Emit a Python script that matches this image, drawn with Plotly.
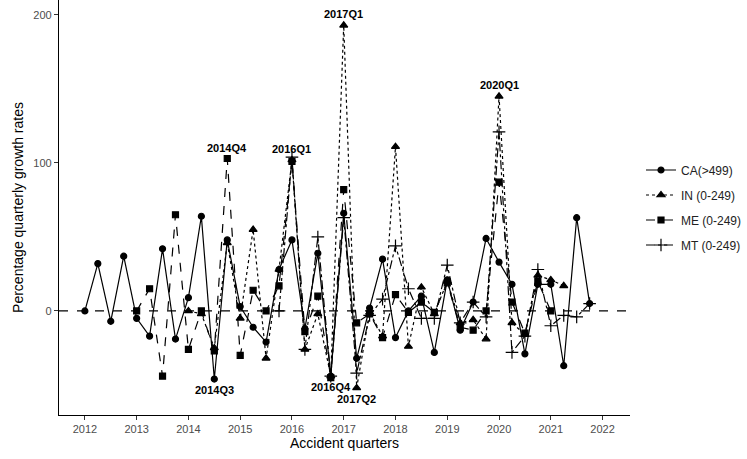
import plotly.graph_objects as go

# Quarter labels 2012Q1 .. 2021Q4
years = list(range(2012, 2022))
quarters = [f"{y}Q{q}" for y in years for q in (1, 2, 3, 4)]
xq = [int(s[:4]) + (int(s[-1]) - 1) / 4 for s in quarters]

N = None
ca = [0, 32, -7, 37, -5, -17, 42, -19, 9, 64,
      -46, 48, 3, -11, -21, 28, 48, -12, 39, -44,
      66, -32, 2, 35, -18, 0, 10, -28, 21, -13,
      6, 49, 33, 18, -29, 18, 18, -37, 63, 5]
in_ = [N, N, N, N, N, N, N, N, 0, -2,
       -25, 46, -5, 55, -32, 28, 102, -26, -2, -44,
       193, -52, -1, -17, 111, -24, 16, -2, 20, -8,
       -6, -19, 145, -8, -16, 24, 21, 17, N, N]
me = [N, N, N, N, 0, 15, -44, 65, -26, 0,
      -27, 103, -30, 14, 0, 17, 101, -14, 10, -45,
      82, -8, -2, -18, 11, -1, 6, -1, 19, -11,
      -13, 0, 87, 6, -15, 20, 0, N, N, N]
mt = [N, N, N, N, N, N, N, N, N, N,
      N, N, N, N, N, 0, 104, -26, 50, -44,
      63, -42, -3, 8, 44, 15, -5, -5, 31, -8,
      6, -4, 121, -28, -17, 28, -10, -3, -4, 5]

series_names = ["CA(>499)", "IN (0-249)", "ME (0-249)", "MT (0-249)"]
series_vals = [ca, in_, me, mt]
dashes = ["solid", "dot", "dash", "dashdot"]
symbols = ["circle", "triangle-up", "square", "cross-thin-open"]
msizes = [6, 7, 6, 9]

# labelled quarters: (quarter, series index, position)
labels = [("2014Q3", 0, "below"), ("2014Q4", 2, "above"), ("2016Q1", 1, "above"),
          ("2016Q4", 0, "below"), ("2017Q1", 1, "above"), ("2017Q2", 1, "below"),
          ("2020Q1", 1, "above")]

fig = go.Figure()
for i, (nm, vals) in enumerate(zip(series_names, series_vals)):
    fig.add_trace(go.Scatter(
        x=xq, y=vals, name=nm, mode="lines+markers", legendgroup=nm,
        line=dict(color="black", width=1.2, dash=dashes[i]),
        marker=dict(symbol=symbols[i], size=msizes[i], color="black",
                    line=dict(color="black", width=1.2)),
        connectgaps=False,
    ))

for q, si, pos in labels:
    k = quarters.index(q)
    fig.add_annotation(
        x=xq[k], y=series_vals[si][k], text=f"<b>{q}</b>", showarrow=False,
        yshift=11 if pos == "above" else -11,
        font=dict(family="Liberation Sans", size=11, color="black"),
    )

fig.add_shape(type="line", xref="paper", x0=0, x1=1, yref="y", y0=0, y1=0,
              line=dict(color="black", width=1.3, dash="dash"), layer="below")

fig.update_layout(
    width=747, height=459,
    margin=dict(l=59, r=116, t=0, b=44),
    paper_bgcolor="white", plot_bgcolor="white",
    font=dict(family="Liberation Sans", color="black"),
    showlegend=True,
    legend=dict(x=1.02, xanchor="left", y=0.5, yanchor="middle",
                font=dict(size=12, color="#222222"), tracegroupgap=6,
                itemwidth=30, bgcolor="rgba(0,0,0,0)"),
    xaxis=dict(range=[2011.5, 2022.53], tickvals=years + [2022],
               ticktext=[str(y) for y in years + [2022]], automargin=False,
               showgrid=False, zeroline=False, showline=True, linecolor="black",
               linewidth=1.3, ticks="outside", ticklen=4, tickcolor="#333333",
               tickfont=dict(size=11, color="#4D4D4D"),
               title=dict(text="Accident quarters", font=dict(size=14), standoff=2)),
    yaxis=dict(range=[-70.3, 210.1], tickvals=[0, 100, 200], automargin=False,
               showgrid=False, zeroline=False, showline=True, linecolor="black",
               linewidth=1.3, ticks="outside", ticklen=4, tickcolor="#333333",
               tickfont=dict(size=11, color="#4D4D4D"),
               title=dict(text="Percentage quarterly growth rates", font=dict(size=14), standoff=6)),
)

fig.write_html("out.html", config={"displayModeBar": False},
               post_script="document.body.style.margin='0';document.body.style.overflow='hidden';")
